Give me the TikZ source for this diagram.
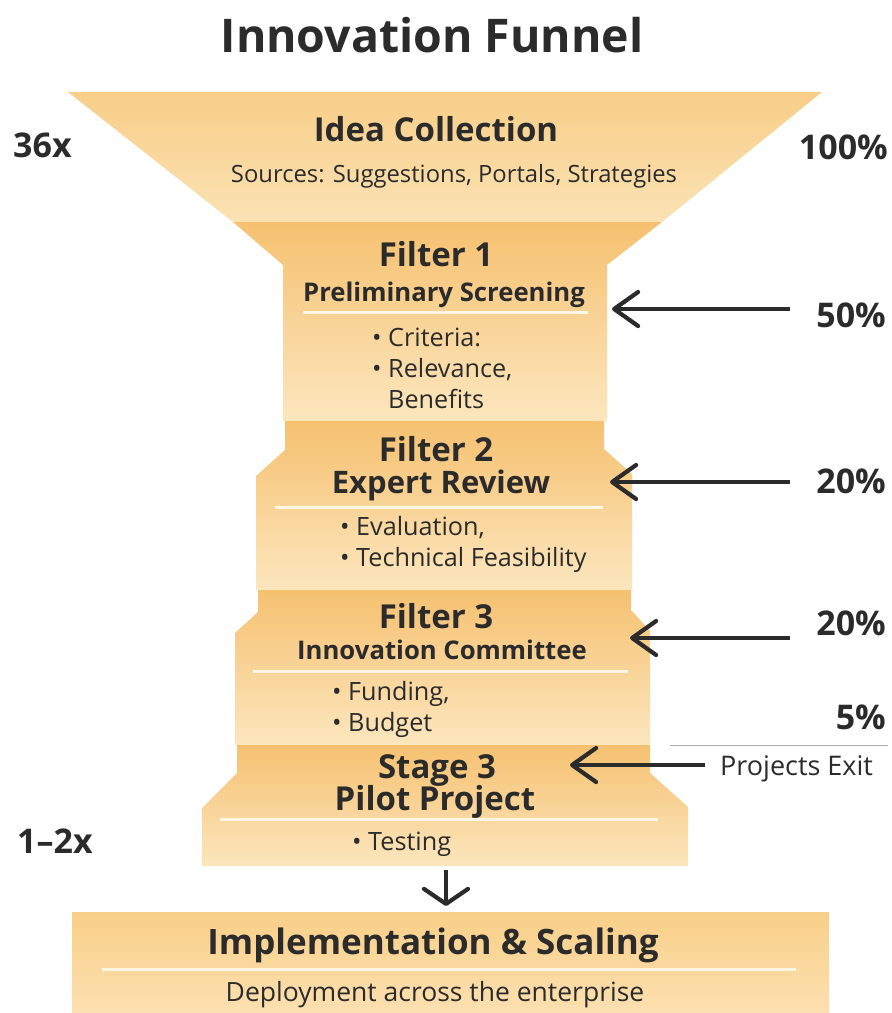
\documentclass[tikz,border=0pt]{standalone}
\usepackage{fontspec}
\setmainfont{Open Sans}
\usetikzlibrary{arrows.meta}

\definecolor{ink}{RGB}{43,43,43}
\definecolor{funtop}{RGB}{248,206,136}
\definecolor{funbot}{RGB}{251,226,180}
\definecolor{bandtop}{RGB}{245,193,112}
\definecolor{bandbot}{RGB}{252,230,190}
\definecolor{boxtop}{RGB}{248,207,136}
\definecolor{boxbot}{RGB}{252,224,176}
\definecolor{sepline}{RGB}{255,246,228}
\definecolor{rule}{RGB}{170,170,170}

\newcommand{\sz}[1]{\fontsize{#1}{#1}\selectfont}

\tikzset{
  stagefill/.style={top color=bandtop, bottom color=bandbot, draw=none},
  sep/.style={sepline, line width=3pt},
  heading/.style={anchor=base, inner sep=0pt, text=ink, font=\bfseries\sz{33}},
  subheading/.style={anchor=base, inner sep=0pt, text=ink, font=\bfseries\sz{25.7}},
  bullets/.style={anchor=base west, inner sep=0pt, text=ink, align=left,
    font=\fontsize{25.2}{31}\selectfont},
  sidelabel/.style={inner sep=0pt, text=ink, font=\bfseries\sz{34}},
  exitarrow/.style={draw=ink, line width=4.2pt,
    -{Straight Barb[length=24pt, width=34pt, line width=4.2pt, round]}},
}

\begin{document}
\begin{tikzpicture}[x=1pt, y=-1pt]
\useasboundingbox (0,0) rectangle (892,1013);
\fill[white] (0,0) rectangle (892,1013);

% funnel mouth
\shade[top color=funtop, bottom color=funbot] (68,92) -- (822,92) -- (662,222) -- (233,222) -- cycle;
% filter 1
\shade[stagefill] (233,222) -- (662,222) -- (607,265) -- (607,421) -- (283,421) -- (283,265) -- cycle;
% filter 2
\shade[stagefill] (285,421) -- (604,421) -- (604,449) -- (632,474) -- (632,590) -- (256,590) -- (256,476) -- (285,450) -- cycle;
% filter 3
\shade[stagefill] (258,590) -- (631,590) -- (631,610) -- (650,631) -- (650,745) -- (235,745) -- (235,633) -- (258,612) -- cycle;
% stage 3
\shade[stagefill] (237,745) -- (650,745) -- (650,773) -- (688,807) -- (688,866) -- (202,866) -- (202,808) -- (237,773) -- cycle;
% implementation box
\shade[top color=boxtop, bottom color=boxbot] (72,912) rectangle (829,1013);

% separators
\draw[sep] (303,312) -- (588,312);
\draw[sep] (275,507) -- (603,507);
\draw[sep] (253,671) -- (628,671);
\draw[sep] (220,819) -- (658,819);
\draw[sep] (102,969) -- (796,969);

% title
\node[anchor=base, inner sep=0pt, text=ink, font=\bfseries\sz{46.4}] (title) at (432,52) {Innovation Funnel};

% stage texts
\node[heading] (idea) at (436,141) {Idea Collection};
\node[anchor=base, inner sep=0pt, text=ink, font=\sz{23.8}] (ideasrc) at (454,182) {Sources: Suggestions, Portals, Strategies};

\node[heading] (f1) at (436,266) {Filter 1};
\node[subheading] (f1sub) at (444,301) {Preliminary Screening};
\node[bullets] (f1list) at (372,408) {• Criteria:\\• Relevance,\\\hphantom{• }Benefits};

\node[heading] (f2) at (436,461) {Filter 2};
\node[subheading, font=\bfseries\sz{31}] (f2sub) at (441,493) {Expert Review};
\node[bullets] (f2list) at (340,566) {• Evaluation,\\• Technical Feasibility};

\node[heading] (f3) at (436,628) {Filter 3};
\node[subheading] (f3sub) at (442,659) {Innovation Committee};
\node[bullets] (f3list) at (332,731) {• Funding,\\• Budget};

\node[heading] (s3) at (437,778) {Stage 3};
\node[heading] (s3sub) at (435,810) {Pilot Project};
\node[bullets] (s3list) at (352,850) {• Testing};

\node[anchor=base, inner sep=0pt, text=ink, font=\bfseries\sz{35}] (impl) at (433,954) {Implementation \& Scaling};
\node[anchor=base, inner sep=0pt, text=ink, font=\sz{26.5}] (deploy) at (435,1001) {Deployment across the enterprise};

% side labels
\node[sidelabel, anchor=base west] (in) at (13,157) {36x};
\node[sidelabel, anchor=base west] (out) at (17,853) {1–2x};
\node[sidelabel, anchor=base east] (p100) at (888,159) {100\%};
\node[sidelabel, anchor=base east] (p50) at (886,327) {50\%};
\node[sidelabel, anchor=base east] (p20a) at (886,493) {20\%};
\node[sidelabel, anchor=base east] (p20b) at (886,635) {20\%};
\node[sidelabel, anchor=base east] (p5) at (886,729) {5\%};
\draw[rule, line width=1pt] (670,745) -- (888,745);
\node[anchor=base west, inner sep=0pt, text=ink, font=\sz{27}] (exit) at (720,775) {Projects Exit};

% arrow ends
\coordinate (a50) at (790,309);   \coordinate (t50) at (612,309);
\coordinate (a20a) at (790,482);  \coordinate (t20a) at (610,482);
\coordinate (a20b) at (790,638);  \coordinate (t20b) at (630,638);
\coordinate (aex) at (705,765);   \coordinate (tex) at (570,765);
\coordinate (dtop) at (446,870);  \coordinate (dtip) at (446,906);

\draw[exitarrow] (a50) -- (t50);
\draw[exitarrow] (a20a) -- (t20a);
\draw[exitarrow] (a20b) -- (t20b);
\draw[exitarrow] (aex) -- (tex);
\draw[draw=ink, line width=4.2pt, -{Straight Barb[length=15pt, width=44pt, line width=4.2pt, round]}] (dtop) -- (dtip);
\end{tikzpicture}
\end{document}
